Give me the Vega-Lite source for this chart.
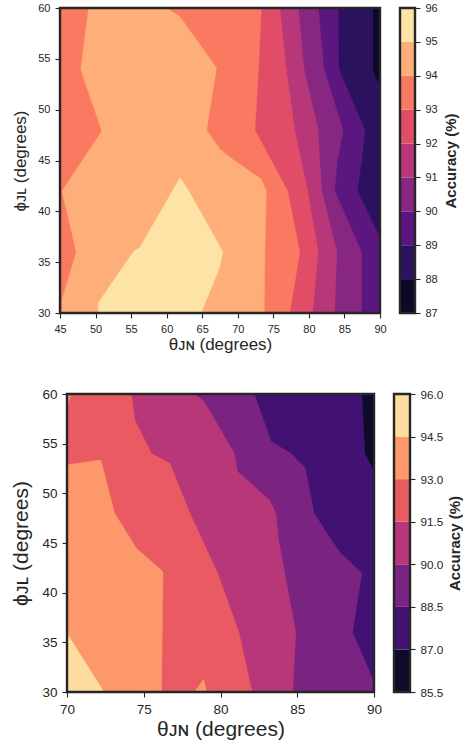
{
  "$schema": "https://vega.github.io/schema/vega-lite/v6.json",
  "padding": {"left": 10, "top": 2, "right": 0, "bottom": 0},
  "background": "white",
  "config": {
    "font": "Liberation Sans",
    "view": {"stroke": null},
    "axis": {"domain": false, "grid": false, "labelColor": "#262626", "titleColor": "#262626", "tickColor": "#262626", "tickWidth": 1.1, "tickSize": 5, "labelFlush": false, "labelOverlap": false, "titleFontWeight": "normal", "tickCount": 20}
  },
  "datasets": {
    "top": [
      {"lvl":87,"i":0,"x":45,"y":60},{"lvl":87,"i":1,"x":90,"y":60},{"lvl":87,"i":2,"x":90,"y":30},{"lvl":87,"i":3,"x":45,"y":30},
      {"lvl":88,"i":0,"x":45,"y":60},{"lvl":88,"i":1,"x":89.0,"y":60},{"lvl":88,"i":2,"x":89.0,"y":53.8},{"lvl":88,"i":3,"x":90,"y":52.3},{"lvl":88,"i":4,"x":90,"y":30},{"lvl":88,"i":5,"x":45,"y":30},
      {"lvl":89,"i":0,"x":45,"y":60},{"lvl":89,"i":1,"x":84.1,"y":60},{"lvl":89,"i":2,"x":84.2,"y":54},{"lvl":89,"i":3,"x":87.85,"y":48},{"lvl":89,"i":4,"x":87.4,"y":45},{"lvl":89,"i":5,"x":86.8,"y":42},{"lvl":89,"i":6,"x":90,"y":37.4},{"lvl":89,"i":7,"x":90,"y":30},{"lvl":89,"i":8,"x":45,"y":30},
      {"lvl":90,"i":0,"x":45,"y":60},{"lvl":90,"i":1,"x":81.3,"y":60},{"lvl":90,"i":2,"x":82.1,"y":54},{"lvl":90,"i":3,"x":84.8,"y":48},{"lvl":90,"i":4,"x":84.0,"y":45},{"lvl":90,"i":5,"x":83.6,"y":42},{"lvl":90,"i":6,"x":87.4,"y":36},{"lvl":90,"i":7,"x":87.4,"y":30},{"lvl":90,"i":8,"x":45,"y":30},
      {"lvl":91,"i":0,"x":45,"y":60},{"lvl":91,"i":1,"x":78.5,"y":60},{"lvl":91,"i":2,"x":79.3,"y":54},{"lvl":91,"i":3,"x":81.3,"y":48},{"lvl":91,"i":4,"x":81.5,"y":45},{"lvl":91,"i":5,"x":81.8,"y":42},{"lvl":91,"i":6,"x":83.9,"y":36},{"lvl":91,"i":7,"x":83.6,"y":30},{"lvl":91,"i":8,"x":45,"y":30},
      {"lvl":92,"i":0,"x":45,"y":60},{"lvl":92,"i":1,"x":75.9,"y":60},{"lvl":92,"i":2,"x":76.8,"y":54},{"lvl":92,"i":3,"x":78.0,"y":48},{"lvl":92,"i":4,"x":78.9,"y":45},{"lvl":92,"i":5,"x":79.8,"y":42},{"lvl":92,"i":6,"x":81.3,"y":36},{"lvl":92,"i":7,"x":80.5,"y":30},{"lvl":92,"i":8,"x":45,"y":30},
      {"lvl":93,"i":0,"x":45,"y":60},{"lvl":93,"i":1,"x":73.3,"y":60},{"lvl":93,"i":2,"x":72.9,"y":54},{"lvl":93,"i":3,"x":72.4,"y":48},{"lvl":93,"i":4,"x":77.0,"y":42},{"lvl":93,"i":5,"x":78.7,"y":36},{"lvl":93,"i":6,"x":77.3,"y":30},{"lvl":93,"i":7,"x":45,"y":30},
      {"lvl":94,"i":0,"x":49.0,"y":60},{"lvl":94,"i":1,"x":59.95,"y":60},{"lvl":94,"i":2,"x":61.8,"y":59.2},{"lvl":94,"i":3,"x":67.0,"y":54.1},{"lvl":94,"i":4,"x":65.6,"y":48.0},{"lvl":94,"i":5,"x":67.5,"y":46.1},{"lvl":94,"i":6,"x":69.3,"y":45.1},{"lvl":94,"i":7,"x":73.3,"y":43.15},{"lvl":94,"i":8,"x":74.0,"y":42.0},{"lvl":94,"i":9,"x":73.8,"y":36},{"lvl":94,"i":10,"x":73.7,"y":30},{"lvl":94,"i":11,"x":45.3,"y":30},{"lvl":94,"i":12,"x":45.3,"y":31.3},{"lvl":94,"i":13,"x":47.3,"y":36.0},{"lvl":94,"i":14,"x":45.3,"y":42.0},{"lvl":94,"i":15,"x":50.9,"y":47.9},{"lvl":94,"i":16,"x":47.9,"y":54.0},
      {"lvl":95,"i":0,"x":50.4,"y":30},{"lvl":95,"i":1,"x":50.4,"y":31.0},{"lvl":95,"i":2,"x":55.4,"y":36.1},{"lvl":95,"i":3,"x":56.2,"y":36.4},{"lvl":95,"i":4,"x":61.9,"y":43.3},{"lvl":95,"i":5,"x":63.1,"y":42.0},{"lvl":95,"i":6,"x":67.9,"y":36.0},{"lvl":95,"i":7,"x":67.4,"y":34.4},{"lvl":95,"i":8,"x":64.8,"y":30}
    ],
    "topbar": [
      {"lvl":87,"hi":88},{"lvl":88,"hi":89},{"lvl":89,"hi":90},{"lvl":90,"hi":91},{"lvl":91,"hi":92},{"lvl":92,"hi":93},{"lvl":93,"hi":94},{"lvl":94,"hi":95},{"lvl":95,"hi":96}
    ],
    "bot": [
      {"lvl":85.5,"p":"a","i":0,"x":70,"y":60},{"lvl":85.5,"p":"a","i":1,"x":90,"y":60},{"lvl":85.5,"p":"a","i":2,"x":90,"y":30},{"lvl":85.5,"p":"a","i":3,"x":70,"y":30},
      {"lvl":87,"p":"a","i":0,"x":70,"y":60},{"lvl":87,"p":"a","i":1,"x":89.2,"y":60},{"lvl":87,"p":"a","i":2,"x":89.4,"y":54.0},{"lvl":87,"p":"a","i":3,"x":90,"y":52.2},{"lvl":87,"p":"a","i":4,"x":90,"y":30},{"lvl":87,"p":"a","i":5,"x":70,"y":30},
      {"lvl":88.5,"p":"a","i":0,"x":70,"y":60},{"lvl":88.5,"p":"a","i":1,"x":82.2,"y":60},{"lvl":88.5,"p":"a","i":2,"x":83.3,"y":55.2},{"lvl":88.5,"p":"a","i":3,"x":84.6,"y":54.0},{"lvl":88.5,"p":"a","i":4,"x":85.5,"y":52.6},{"lvl":88.5,"p":"a","i":5,"x":86.1,"y":48.0},{"lvl":88.5,"p":"a","i":6,"x":87.3,"y":45.1},{"lvl":88.5,"p":"a","i":7,"x":87.8,"y":44.0},{"lvl":88.5,"p":"a","i":8,"x":89.2,"y":42.0},{"lvl":88.5,"p":"a","i":9,"x":88.6,"y":36.0},{"lvl":88.5,"p":"a","i":10,"x":90,"y":31.0},{"lvl":88.5,"p":"a","i":11,"x":90,"y":30},{"lvl":88.5,"p":"a","i":12,"x":70,"y":30},
      {"lvl":90,"p":"a","i":0,"x":70,"y":60},{"lvl":90,"p":"a","i":1,"x":78.3,"y":60},{"lvl":90,"p":"a","i":2,"x":78.9,"y":59.3},{"lvl":90,"p":"a","i":3,"x":80.0,"y":56.4},{"lvl":90,"p":"a","i":4,"x":80.9,"y":54.0},{"lvl":90,"p":"a","i":5,"x":81.1,"y":52.2},{"lvl":90,"p":"a","i":6,"x":83.2,"y":49.3},{"lvl":90,"p":"a","i":7,"x":83.6,"y":48.0},{"lvl":90,"p":"a","i":8,"x":83.8,"y":45.1},{"lvl":90,"p":"a","i":9,"x":84.9,"y":36.0},{"lvl":90,"p":"a","i":10,"x":84.7,"y":30},{"lvl":90,"p":"a","i":11,"x":70,"y":30},
      {"lvl":91.5,"p":"a","i":0,"x":70,"y":60},{"lvl":91.5,"p":"a","i":1,"x":74.2,"y":60},{"lvl":91.5,"p":"a","i":2,"x":74.4,"y":57.4},{"lvl":91.5,"p":"a","i":3,"x":75.5,"y":54.0},{"lvl":91.5,"p":"a","i":4,"x":76.7,"y":53.0},{"lvl":91.5,"p":"a","i":5,"x":78.0,"y":48.0},{"lvl":91.5,"p":"a","i":6,"x":79.8,"y":42.0},{"lvl":91.5,"p":"a","i":7,"x":81.2,"y":36.0},{"lvl":91.5,"p":"a","i":8,"x":82.05,"y":30},{"lvl":91.5,"p":"a","i":9,"x":70,"y":30},
      {"lvl":93,"p":"a","i":0,"x":70,"y":52.85},{"lvl":93,"p":"a","i":1,"x":72.2,"y":53.35},{"lvl":93,"p":"a","i":2,"x":73.1,"y":48.0},{"lvl":93,"p":"a","i":3,"x":74.5,"y":44.5},{"lvl":93,"p":"a","i":4,"x":76.25,"y":42.1},{"lvl":93,"p":"a","i":5,"x":76.15,"y":30},{"lvl":93,"p":"a","i":6,"x":70,"y":30},
      {"lvl":93,"p":"b","i":0,"x":78.3,"y":30},{"lvl":93,"p":"b","i":1,"x":78.9,"y":31.25},{"lvl":93,"p":"b","i":2,"x":79.1,"y":30},
      {"lvl":93,"p":"c","i":0,"x":70,"y":60},{"lvl":93,"p":"c","i":1,"x":70.25,"y":60},{"lvl":93,"p":"c","i":2,"x":70,"y":58.6},
      {"lvl":94.5,"p":"a","i":0,"x":70,"y":35.9},{"lvl":94.5,"p":"a","i":1,"x":72.4,"y":30},{"lvl":94.5,"p":"a","i":2,"x":70,"y":30}
    ],
    "botbar": [
      {"lvl":85.5,"hi":87},{"lvl":87,"hi":88.5},{"lvl":88.5,"hi":90},{"lvl":90,"hi":91.5},{"lvl":91.5,"hi":93},{"lvl":93,"hi":94.5},{"lvl":94.5,"hi":96}
    ]
  },
  "resolve": {"scale": {"fill": "independent", "stroke": "independent"}},
  "spacing": 35,
  "vconcat": [
    {
      "bounds": "flush",
      "spacing": 20,
      "hconcat": [
        {
          "width": 320, "height": 305,
          "layer": [
            {
              "data": {"name": "top"},
              "encoding": {
                "x": {"field": "x", "type": "quantitative", "scale": {"domain": [45, 90], "nice": false, "zero": false}, "axis": {"values": [45,50,55,60,65,70,75,80,85,90], "format": "d", "labelOverlap": false, "title": "θᴊɴ (degrees)", "labelFontSize": 11, "titleFontSize": 17, "labelPadding": 5, "titlePadding": 2}},
                "y": {"field": "y", "type": "quantitative", "scale": {"domain": [30, 60], "nice": false, "zero": false}, "axis": {"values": [30,35,40,45,50,55,60], "format": "d", "labelOverlap": false, "title": "ϕᴊʟ (degrees)", "labelFontSize": 11, "titleFontSize": 17, "labelPadding": 5, "titlePadding": 8}},
                "order": {"field": "i", "type": "quantitative"},
                "detail": {"field": "p"},
                "fill": {"field": "lvl", "type": "ordinal", "scale": {"domain": [87,88,89,90,91,92,93,94,95], "range": ["#0c0926","#2c115f","#5c167f","#882781","#b73779","#e14d67","#f97a60","#feaf79","#fde3a6"]}, "legend": null},
                "stroke": {"field": "lvl", "type": "ordinal", "scale": {"domain": [87,88,89,90,91,92,93,94,95], "range": ["#0c0926","#2c115f","#5c167f","#882781","#b73779","#e14d67","#f97a60","#feaf79","#fde3a6"]}, "legend": null}
              },
              "layer": [
                {"transform": [{"filter": "datum.lvl == 87"}], "mark": {"type": "line", "strokeWidth": 0.6, "clip": true}},
                {"transform": [{"filter": "datum.lvl == 88"}], "mark": {"type": "line", "strokeWidth": 0.6, "clip": true}},
                {"transform": [{"filter": "datum.lvl == 89"}], "mark": {"type": "line", "strokeWidth": 0.6, "clip": true}},
                {"transform": [{"filter": "datum.lvl == 90"}], "mark": {"type": "line", "strokeWidth": 0.6, "clip": true}},
                {"transform": [{"filter": "datum.lvl == 91"}], "mark": {"type": "line", "strokeWidth": 0.6, "clip": true}},
                {"transform": [{"filter": "datum.lvl == 92"}], "mark": {"type": "line", "strokeWidth": 0.6, "clip": true}},
                {"transform": [{"filter": "datum.lvl == 93"}], "mark": {"type": "line", "strokeWidth": 0.6, "clip": true}},
                {"transform": [{"filter": "datum.lvl == 94"}], "mark": {"type": "line", "strokeWidth": 0.6, "clip": true}},
                {"transform": [{"filter": "datum.lvl == 95"}], "mark": {"type": "line", "strokeWidth": 0.6, "clip": true}}
              ]
            },
            {
              "data": {"values": [{}]},
              "mark": {"type": "rect", "filled": false, "stroke": "#262626", "strokeWidth": 2.4},
              "encoding": {"x": {"datum": 45, "type": "quantitative"}, "x2": {"datum": 90}, "y": {"datum": 30, "type": "quantitative"}, "y2": {"datum": 60}}
            }
          ]
        },
        {
          "width": 15, "height": 305,
          "layer": [
            {
              "data": {"name": "topbar"},
              "mark": {"type": "rect"},
              "encoding": {
                "x": {"datum": 0, "type": "quantitative", "scale": {"domain": [0, 1], "nice": false, "zero": false}, "axis": null},
                "x2": {"datum": 1},
                "y": {"field": "lvl", "type": "quantitative", "scale": {"domain": [87, 96], "nice": false, "zero": false}, "axis": {"orient": "right", "values": [87,88,89,90,91,92,93,94,95,96], "format": "d", "labelOverlap": false, "title": "Accuracy (%)", "titleFontWeight": "bold", "titleFontSize": 15, "titleAngle": 270, "titleBaseline": "top", "labelFontSize": 11, "labelPadding": 5, "titlePadding": 6}},
                "y2": {"field": "hi"},
                "fill": {"field": "lvl", "type": "ordinal", "scale": {"domain": [87,88,89,90,91,92,93,94,95], "range": ["#0c0926","#2c115f","#5c167f","#882781","#b73779","#e14d67","#f97a60","#feaf79","#fde3a6"]}, "legend": null}
              }
            },
            {
              "data": {"values": [{}]},
              "mark": {"type": "rect", "filled": false, "stroke": "#262626", "strokeWidth": 2.4},
              "encoding": {"x": {"datum": 0, "type": "quantitative"}, "x2": {"datum": 1}, "y": {"datum": 87, "type": "quantitative"}, "y2": {"datum": 96}}
            }
          ]
        }
      ]
    },
    {
      "bounds": "flush",
      "spacing": 6,
      "hconcat": [
        {"width": 1, "height": 1, "data": {"values": [{}]}, "mark": {"type": "point", "opacity": 0}},
        {
          "bounds": "flush",
          "spacing": 20,
          "hconcat": [
            {
              "width": 307, "height": 298,
              "layer": [
                {
                  "data": {"name": "bot"},
                  "encoding": {
                    "x": {"field": "x", "type": "quantitative", "scale": {"domain": [70, 90], "nice": false, "zero": false}, "axis": {"values": [70,75,80,85,90], "format": "d", "labelOverlap": false, "title": "θᴊɴ (degrees)", "labelFontSize": 13.5, "titleFontSize": 21, "labelPadding": 5, "titlePadding": 3}},
                    "y": {"field": "y", "type": "quantitative", "scale": {"domain": [30, 60], "nice": false, "zero": false}, "axis": {"values": [30,35,40,45,50,55,60], "format": "d", "labelOverlap": false, "title": "ϕᴊʟ (degrees)", "labelFontSize": 13.5, "titleFontSize": 21, "labelPadding": 5, "titlePadding": 10}},
                    "order": {"field": "i", "type": "quantitative"},
                    "detail": {"field": "p"},
                    "fill": {"field": "lvl", "type": "ordinal", "scale": {"domain": [85.5,87,88.5,90,91.5,93,94.5], "range": ["#0e0a2a","#411173","#7b2381","#b73779","#e95a63","#fd986b","#fddc9f"]}, "legend": null},
                    "stroke": {"field": "lvl", "type": "ordinal", "scale": {"domain": [85.5,87,88.5,90,91.5,93,94.5], "range": ["#0e0a2a","#411173","#7b2381","#b73779","#e95a63","#fd986b","#fddc9f"]}, "legend": null}
                  },
                  "layer": [
                    {"transform": [{"filter": "datum.lvl == 85.5"}], "mark": {"type": "line", "strokeWidth": 0.6, "clip": true}},
                    {"transform": [{"filter": "datum.lvl == 87"}], "mark": {"type": "line", "strokeWidth": 0.6, "clip": true}},
                    {"transform": [{"filter": "datum.lvl == 88.5"}], "mark": {"type": "line", "strokeWidth": 0.6, "clip": true}},
                    {"transform": [{"filter": "datum.lvl == 90"}], "mark": {"type": "line", "strokeWidth": 0.6, "clip": true}},
                    {"transform": [{"filter": "datum.lvl == 91.5"}], "mark": {"type": "line", "strokeWidth": 0.6, "clip": true}},
                    {"transform": [{"filter": "datum.lvl == 93"}], "mark": {"type": "line", "strokeWidth": 0.6, "clip": true}},
                    {"transform": [{"filter": "datum.lvl == 94.5"}], "mark": {"type": "line", "strokeWidth": 0.6, "clip": true}}
                  ]
                },
                {
                  "data": {"values": [{}]},
                  "mark": {"type": "rect", "filled": false, "stroke": "#262626", "strokeWidth": 2.4},
                  "encoding": {"x": {"datum": 70, "type": "quantitative"}, "x2": {"datum": 90}, "y": {"datum": 30, "type": "quantitative"}, "y2": {"datum": 60}}
                }
              ]
            },
            {
              "width": 16, "height": 298,
              "layer": [
                {
                  "data": {"name": "botbar"},
                  "mark": {"type": "rect"},
                  "encoding": {
                    "x": {"datum": 0, "type": "quantitative", "scale": {"domain": [0, 1], "nice": false, "zero": false}, "axis": null},
                    "x2": {"datum": 1},
                    "y": {"field": "lvl", "type": "quantitative", "scale": {"domain": [85.5, 96], "nice": false, "zero": false}, "axis": {"orient": "right", "values": [85.5,87,88.5,90,91.5,93,94.5,96], "labelOverlap": false, "format": ".1f", "title": "Accuracy (%)", "titleFontWeight": "bold", "titleFontSize": 15, "titleAngle": 270, "titleBaseline": "top", "labelFontSize": 11.7, "labelPadding": 5, "titlePadding": 5}},
                    "y2": {"field": "hi"},
                    "fill": {"field": "lvl", "type": "ordinal", "scale": {"domain": [85.5,87,88.5,90,91.5,93,94.5], "range": ["#0e0a2a","#411173","#7b2381","#b73779","#e95a63","#fd986b","#fddc9f"]}, "legend": null}
                  }
                },
                {
                  "data": {"values": [{}]},
                  "mark": {"type": "rect", "filled": false, "stroke": "#262626", "strokeWidth": 2.4},
                  "encoding": {"x": {"datum": 0, "type": "quantitative"}, "x2": {"datum": 1}, "y": {"datum": 85.5, "type": "quantitative"}, "y2": {"datum": 96}}
                }
              ]
            }
          ]
        }
      ]
    }
  ]
}
